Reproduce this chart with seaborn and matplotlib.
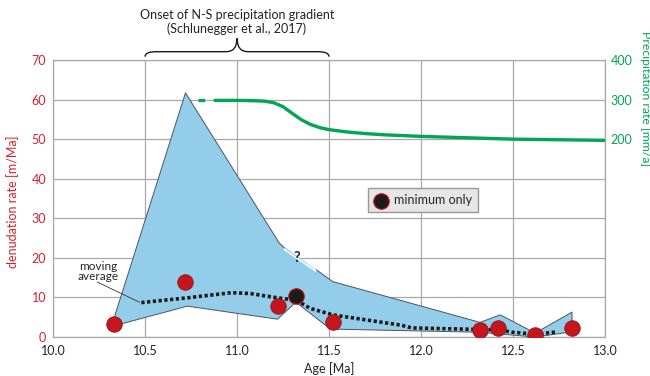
import matplotlib
matplotlib.use("Agg")
import matplotlib.pyplot as plt
from matplotlib.path import Path
from matplotlib.patches import PathPatch
import matplotlib.transforms as mtransforms
import seaborn as sns
import pandas as pd

# ---------------- data ----------------
sample_age = [10.33, 10.72, 11.22, 11.52, 12.32, 12.42, 12.62, 12.82]
sample_rate = [3.4, 14.0, 7.9, 3.7, 1.8, 2.4, 0.5, 2.4]

min_age = [11.32]
min_rate = [10.4]

upper_age = [10.33, 10.72, 11.23, 11.52, 12.32, 12.43, 12.62, 12.82]
upper_rate = [4.5, 61.7, 23.7, 14.0, 3.7, 5.6, 1.0, 6.3]
lower_age = [10.33, 10.73, 11.22, 11.32, 11.48, 11.52, 12.32, 12.62, 12.82]
lower_rate = [2.8, 7.8, 4.5, 8.8, 3.0, 2.0, 1.2, 0.0, 1.3]

mavg_age = [10.48, 10.73, 10.97, 11.07, 11.22, 11.32, 11.40, 11.52, 11.89, 11.95, 12.32, 12.42, 12.50, 12.62, 12.74]
mavg_rate = [8.7, 9.9, 11.2, 11.0, 9.9, 9.3, 7.2, 5.6, 3.0, 2.3, 1.9, 1.8, 1.2, 0.7, 1.3]

precip_dash_age = [10.79, 10.88]
precip_dash_val = [298, 298]
precip_age = [10.88, 11.0, 11.10, 11.15, 11.20, 11.25, 11.30, 11.35, 11.40, 11.45, 11.50,
              11.60, 11.70, 11.80, 12.0, 12.5, 13.0]
precip_val = [298, 298, 297, 296, 292, 282, 265, 249, 237, 229, 224,
              218, 214, 211, 207, 200, 197]

x_ticks = [10.0, 10.5, 11.0, 11.5, 12.0, 12.5, 13.0]
y_ticks = [0, 10, 20, 30, 40, 50, 60, 70]
y2_ticks = [200, 300, 400]

RED = "#d2232a"
GREEN = "#00a651"
BLUE = "#93cde9"
GRID = "#a8a8a8"

sns.set_theme(style="white")
plt.rcParams["font.family"] = ["Lato", "DejaVu Sans"]

fig = plt.figure(figsize=(6.5, 3.76), dpi=100)
ax = fig.add_axes([0.0815, 0.1037, 0.8495, 0.7367])

# envelope
env_x = upper_age + lower_age[::-1]
env_y = upper_rate + lower_rate[::-1]
ax.fill(env_x, env_y, color=BLUE, zorder=2, lw=0)
edge_col = "#4a5560"
ax.plot(upper_age[:3] + [11.255], upper_rate[:3] + [22.6], color=edge_col, lw=0.7, zorder=3)
ax.plot([11.43] + upper_age[3:] + [upper_age[-1], lower_age[-1]],
        [17.0] + upper_rate[3:] + [upper_rate[-1], lower_rate[-1]], color=edge_col, lw=0.7, zorder=3)
ax.plot(lower_age, lower_rate, color=edge_col, lw=0.7, zorder=3)
ax.plot([upper_age[0], lower_age[0]], [upper_rate[0], lower_rate[0]], color=edge_col, lw=0.7, zorder=3)
ax.plot([11.255, 11.43], [22.2, 16.6], color="white", lw=1.2, zorder=3, solid_capstyle="butt")

# moving average
sns.lineplot(x=mavg_age, y=mavg_rate, ax=ax, color="#1a1a1a", lw=2.6,
             linestyle=(0, (0.9, 0.7)), zorder=4, sort=False)

# samples
sns.scatterplot(x=sample_age, y=sample_rate, ax=ax, s=125, color="#c4161c",
                edgecolor="#8a1a1a", linewidth=0.6, zorder=5, legend=False)
sns.scatterplot(x=min_age, y=min_rate, ax=ax, s=125, color="#1c1c1c",
                edgecolor="#c4161c", linewidth=0.8, zorder=5, label="minimum only")

ax.set_xlim(10.0, 13.0)
ax.set_ylim(0, 70)
ax.set_xticks(x_ticks)
ax.set_xticklabels([f"{t:.1f}" for t in x_ticks])
ax.set_yticks(y_ticks)
ax.grid(True, color=GRID, lw=0.9, zorder=0)
ax.set_axisbelow(True)
for s in ax.spines.values():
    s.set_color(GRID)
    s.set_linewidth(0.9)
ax.tick_params(axis="x", length=0, pad=6, labelsize=9, colors="#222222")
ax.tick_params(axis="y", length=0, pad=5, labelsize=9, colors=RED)

ax.set_xlabel("Age [Ma]", fontsize=9, color="#222222")
ax.xaxis.set_label_coords(0.5, -0.09)
ax.set_ylabel("denudation rate [m/Ma]", fontsize=9, color=RED)
ax.yaxis.set_label_coords(-0.062, 0.49)

# legend
leg = ax.legend(loc="center", bbox_to_anchor=(0.67, 0.495), frameon=True, fancybox=False,
                fontsize=9, handletextpad=0.4, borderpad=0.45, handlelength=1.2,
                borderaxespad=0, markerscale=1.0)
leg.get_frame().set_facecolor("#e6e6e6")
leg.get_frame().set_edgecolor("#999999")
leg.get_frame().set_alpha(1)

# annotations
ax.text(11.325, 20.0, "?", fontsize=10.5, fontweight="bold", ha="center", va="center", zorder=6)
ax.text(10.245, 16.6, "moving\naverage", fontsize=8.5, ha="center", va="center",
        linespacing=0.85, zorder=6)
ax.plot([10.24, 10.47], [13.9, 8.8], color="#333333", lw=0.6, zorder=6)

# bracket
trans = mtransforms.blended_transform_factory(ax.transData, ax.transAxes)
verts = [(10.5, 1.012), (10.5, 1.030), (10.56, 1.030),
         (10.94, 1.030),
         (11.0, 1.030), (11.0, 1.078),
         (11.0, 1.030), (11.06, 1.030),
         (11.44, 1.030),
         (11.5, 1.030), (11.5, 1.012)]
codes = [Path.MOVETO, Path.CURVE3, Path.CURVE3, Path.LINETO,
         Path.CURVE3, Path.CURVE3, Path.CURVE3, Path.CURVE3,
         Path.LINETO, Path.CURVE3, Path.CURVE3]
ax.add_patch(PathPatch(Path(verts, codes), transform=trans, fill=False,
                       edgecolor="#1a1a1a", lw=1.0, clip_on=False))
ax.text(11.0, 1.162, "Onset of N-S precipitation gradient", transform=trans,
        ha="center", va="center", fontsize=9, color="#222222")
ax.text(11.0, 1.112, "(Schlunegger et al., 2017)", transform=trans,
        ha="center", va="center", fontsize=9, color="#222222")

# precipitation axis
ax2 = ax.twinx()
ax2.set_position(ax.get_position())
sns.lineplot(x=precip_dash_age, y=precip_dash_val, ax=ax2, color=GREEN, lw=2.4,
             linestyle=(0, (2, 3)))
sns.lineplot(x=precip_age, y=precip_val, ax=ax2, color=GREEN, lw=2.4)
ax2.set_ylim(-300, 400)
ax2.set_yticks(y2_ticks)
ax2.tick_params(axis="y", length=0, pad=4, labelsize=9, colors=GREEN)
ax2.grid(False)
for s in ax2.spines.values():
    s.set_visible(False)
ax2.set_ylabel("Precipitation rate [mm/a]", fontsize=8.8, color=GREEN, rotation=270,
               va="center")
ax2.yaxis.set_label_coords(1.073, 0.86)

fig.savefig("out.png", dpi=100)
